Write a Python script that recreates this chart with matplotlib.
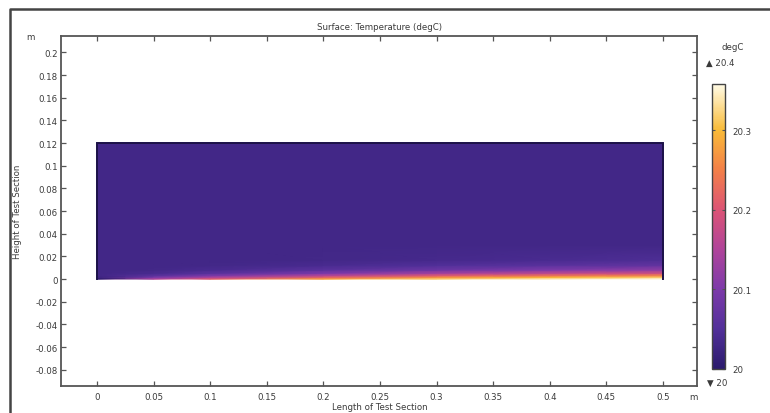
import numpy as np
import matplotlib
matplotlib.use("Agg")
import matplotlib.pyplot as plt
from matplotlib.colors import LinearSegmentedColormap

# ---- data ----
x_pts = [0.0, 0.05, 0.1, 0.2, 0.3, 0.4, 0.5]           # m
y_pts = [0.0, 0.0015, 0.003, 0.005, 0.008, 0.012, 0.017, 0.03, 0.12]  # m
T_y0000 = [20.0, 20.15, 20.21, 20.28, 20.32, 20.345, 20.358]
T_y0015 = [20.02, 20.10, 20.15, 20.22, 20.27, 20.30, 20.32]
T_y0030 = [20.03, 20.06, 20.10, 20.16, 20.21, 20.24, 20.26]
T_y0050 = [20.03, 20.04, 20.06, 20.10, 20.14, 20.17, 20.19]
T_y0080 = [20.03, 20.032, 20.04, 20.06, 20.08, 20.10, 20.12]
T_y0120 = [20.03, 20.03, 20.032, 20.04, 20.05, 20.06, 20.07]
T_y0170 = [20.03, 20.03, 20.03, 20.032, 20.035, 20.04, 20.045]
T_y0300 = [20.03, 20.03, 20.03, 20.03, 20.03, 20.03, 20.03]
T_y1200 = [20.03, 20.03, 20.03, 20.03, 20.03, 20.03, 20.03]

x_ticks = [0, 0.05, 0.1, 0.15, 0.2, 0.25, 0.3, 0.35, 0.4, 0.45, 0.5]
x_tick_labels = ["0", "0.05", "0.1", "0.15", "0.2", "0.25", "0.3", "0.35", "0.4", "0.45", "0.5"]
y_ticks = [-0.08, -0.06, -0.04, -0.02, 0, 0.02, 0.04, 0.06, 0.08, 0.1, 0.12, 0.14, 0.16, 0.18, 0.2]
y_tick_labels = ["-0.08", "-0.06", "-0.04", "-0.02", "0", "0.02", "0.04", "0.06", "0.08",
                 "0.1", "0.12", "0.14", "0.16", "0.18", "0.2"]
cb_ticks = [20.0, 20.1, 20.2, 20.3]
cb_tick_labels = ["20", "20.1", "20.2", "20.3"]
t_min, t_max = 20.0, 20.358
label_max, label_min = "20.4", "20"
domain_w, domain_h = 0.5, 0.12

# ---- colormap (HeatCamera-like) ----
cmap = LinearSegmentedColormap.from_list("heat", [
    (0.00, "#2a1a6c"), (0.14, "#52309a"), (0.28, "#7d3aaa"), (0.42, "#b0449a"),
    (0.56, "#dc5475"), (0.70, "#f38048"), (0.84, "#f9bb38"), (1.00, "#fffbe6")])

FS = 6.2
TXT = "#3a3a3a"
SP = "#555555"

fig = plt.figure(figsize=(7.7, 4.14), dpi=100)
ax = fig.add_axes([61/770, 1-387/414, (697-61)/770, (387-37)/414])

T = np.array([T_y0000, T_y0015, T_y0030, T_y0050, T_y0080, T_y0120, T_y0170, T_y0300, T_y1200])
X, Y = np.meshgrid(x_pts, y_pts)
mesh = ax.pcolormesh(X, Y, T, shading="gouraud", cmap=cmap, vmin=t_min, vmax=t_max)
ax.plot([0, 0, domain_w, domain_w], [0, domain_h, domain_h, 0], color="#1c1248", lw=1.4,
        solid_joinstyle="miter", zorder=3)

ax.set_xlim(-0.0318, 0.530)
ax.set_ylim(-0.0944, 0.2145)
ax.set_xticks(x_ticks)
ax.set_xticklabels(x_tick_labels)
ax.set_yticks(y_ticks)
ax.set_yticklabels(y_tick_labels)
ax.tick_params(direction="in", length=3.5, width=0.9, color=SP, labelsize=FS, labelcolor=TXT,
               top=True, right=True)
ax.tick_params(axis="x", pad=4.5)
ax.tick_params(axis="y", pad=2.5)
for s in ax.spines.values():
    s.set_color(SP)
    s.set_linewidth(1.3)

fig.text(0.4935, 1-28/414, "Surface: Temperature (degC)", ha="center", va="center", fontsize=FS, color=TXT)
fig.text(0.4935, 1-408/414, "Length of Test Section", ha="center", va="center", fontsize=FS, color=TXT)
fig.text(18/770, 1-212/414, "Height of Test Section", ha="center", va="center", rotation=90,
         fontsize=FS, color=TXT)
fig.text(30/770, 1-38/414, "m", ha="center", va="center", fontsize=FS, color=TXT)
fig.text(693/770, 1-398/414, "m", ha="center", va="center", fontsize=FS, color=TXT)

# colorbar
cax = fig.add_axes([712/770, 1-370/414, 13/770, (370-85)/414])
cb = fig.colorbar(mesh, cax=cax)
cb.set_ticks(cb_ticks)
cb.set_ticklabels(cb_tick_labels)
cax.tick_params(direction="in", length=2, width=0.8, color="#555555", labelsize=FS,
                labelcolor=TXT, pad=5, left=True)
cb.outline.set_edgecolor("#444444")
cb.outline.set_linewidth(1.0)

fig.text(733/770, 1-48/414, "degC", ha="center", va="center", fontsize=FS, color=TXT)
fig.text(706/770, 1-63/414, "\u25B2 " + label_max, ha="left", va="center", fontsize=FS, color=TXT)
fig.text(707/770, 1-383/414, "\u25BC " + label_min, ha="left", va="center", fontsize=FS, color=TXT)

# outer frame
fig.add_artist(plt.Line2D([10/770, 10/770, 1.0], [0.0, 1-10/414, 1-10/414],
                          transform=fig.transFigure, color="#444444", lw=1.8))

fig.savefig("out.png", dpi=100)
